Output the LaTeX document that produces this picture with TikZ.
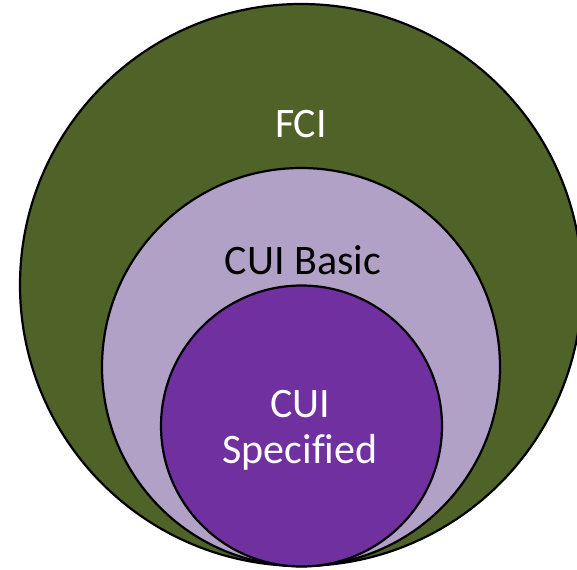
\documentclass[tikz,border=0pt]{standalone}
\usepackage{fontspec}
\setmainfont{Carlito}[Ligatures=NoCommon]
\definecolor{fcigreen}{HTML}{4F6228}
\definecolor{basicpurple}{HTML}{B2A1C7}
\definecolor{specpurple}{HTML}{7030A0}
\begin{document}
\begin{tikzpicture}[x=1pt,y=-1pt,
  ring/.style={circle,draw=black,line width=2.2pt,inner sep=0pt,outer sep=0pt},
  label/.style={anchor=base,inner sep=0pt,font=\fontsize{42}{46}\selectfont}]
\useasboundingbox (0,0) rectangle (577,569);
\clip (0,0) rectangle (577,569);
\node[ring,fill=fcigreen,minimum size=562pt] (fci) at (301,285) {};
\node[ring,fill=basicpurple,minimum size=398pt] (basic) at (301,367) {};
\node[ring,fill=specpurple,minimum size=281pt] (spec) at (301.5,426) {};
\node[label,text=white] (tfci) at (301,138) {FCI};
\node[label,text=black] (tbasic) at (303,274) {CUI Basic};
\node[label,text=white] (tcui) at (300,417) {CUI};
\node[label,text=white] (tspec) at (300,463) {Specified};
\end{tikzpicture}
\end{document}
